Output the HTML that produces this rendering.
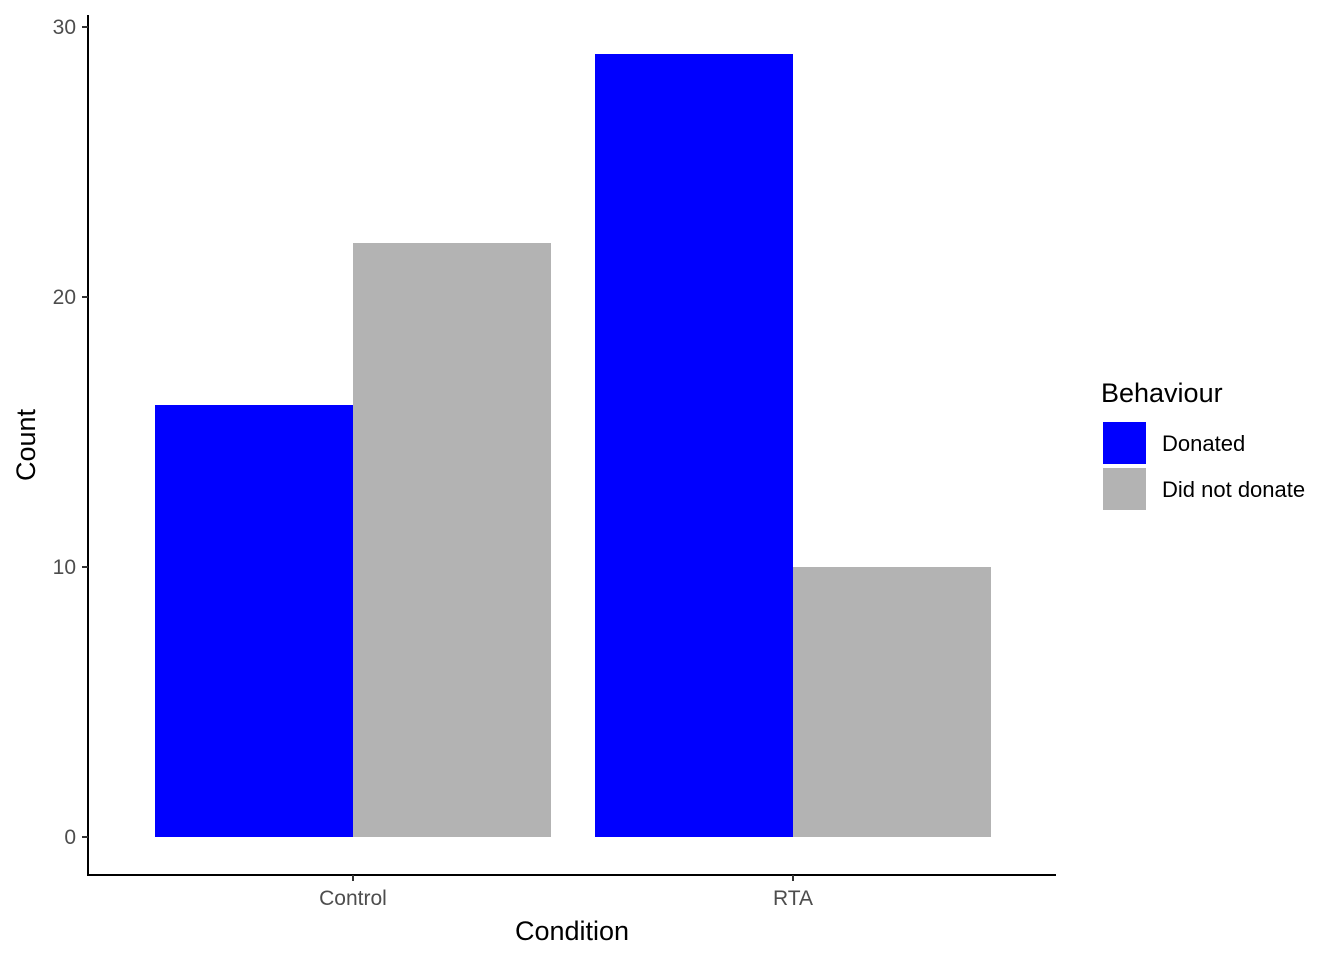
<!DOCTYPE html>
<html><head><meta charset="utf-8"><style>
html,body{margin:0;padding:0;background:#fff;}
svg{display:block;font-family:"Liberation Sans",Arial,sans-serif;}
</style></head><body>
<svg id="chart" width="1344" height="960"></svg>
<script>
const categories = ["Control", "RTA"];
const seriesNames = ["Donated", "Did not donate"];
const donated = [16, 29];
const didNotDonate = [22, 10];
const yTicks = [0, 10, 20, 30];
const colors = ["#0000ff", "#b3b3b3"];

const svg = document.getElementById('chart');
const NS = 'http://www.w3.org/2000/svg';
function mk(tag, attrs, text){
  const e = document.createElementNS(NS, tag);
  for (const k in attrs) e.setAttribute(k, attrs[k]);
  if (text !== undefined) e.textContent = text;
  svg.appendChild(e);
  return e;
}
const y0 = 837, pxPerUnit = 27;
function yScale(v){ return y0 - v * pxPerUnit; }
const bandStart = 133, band = 440;
function xCenter(i){ return bandStart + band * i + band / 2; }
const barW = 198;

const series = [donated, didNotDonate];
categories.forEach((c, i) => {
  series.forEach((vals, s) => {
    const x = xCenter(i) - barW + s * barW;
    const r = mk('rect', {x: x, y: yScale(vals[i]), width: barW, height: yScale(0) - yScale(vals[i]), fill: colors[s]});
    
    
  });
});

const ya = mk('line', {x1: 88, y1: 15, x2: 88, y2: 876, stroke: '#000', 'stroke-width': 2});


const xa = mk('line', {x1: 87, y1: 875, x2: 1056, y2: 875, stroke: '#000', 'stroke-width': 2});



yTicks.forEach(t => {
  const y = yScale(t);
  const tk = mk('line', {x1: 82, y1: y, x2: 88, y2: y, stroke: '#333', 'stroke-width': 2});
  
  
  const lb = mk('text', {x: 76, y: y + 7, 'text-anchor': 'end', 'font-size': 21, fill: '#4d4d4d'}, String(t));
  
  
});
categories.forEach((c, i) => {
  const x = xCenter(i);
  const tk = mk('line', {x1: x, y1: 875, x2: x, y2: 881, stroke: '#333', 'stroke-width': 2});
  
  
  const lb = mk('text', {x: x, y: 905, 'text-anchor': 'middle', 'font-size': 21, fill: '#4d4d4d'}, c);
  
  
});

const xt = mk('text', {x: 572, y: 940, 'text-anchor': 'middle', 'font-size': 27, fill: '#000'}, 'Condition');


const yt = mk('text', {x: 0, y: 0, transform: 'translate(35,445) rotate(-90)', 'text-anchor': 'middle', 'font-size': 27, fill: '#000'}, 'Count');



const lt = mk('text', {x: 1101, y: 402, 'font-size': 27, fill: '#000'}, 'Behaviour');


seriesNames.forEach((n, s) => {
  const y = 422 + s * 46;
  const k = mk('rect', {x: 1103, y: y, width: 43, height: 42, fill: colors[s]});
  
  
  const l = mk('text', {x: 1162, y: y + 29, 'font-size': 22, fill: '#000'}, n);
  
  
});
</script>
</body></html>
